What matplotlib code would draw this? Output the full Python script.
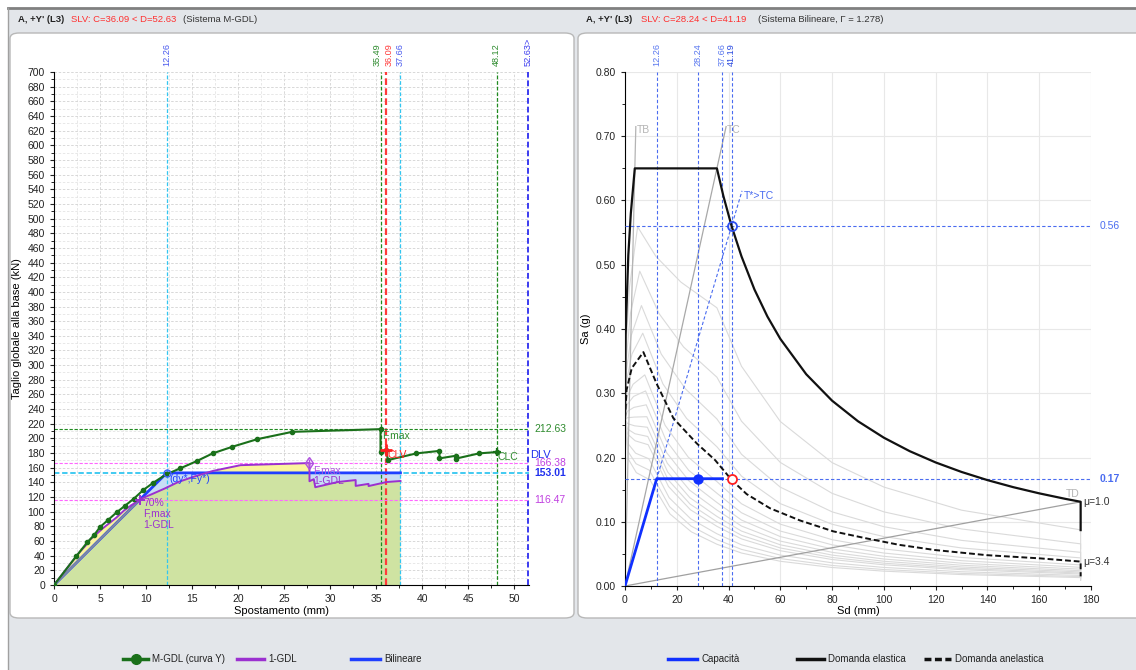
import matplotlib
matplotlib.use('Agg')
import matplotlib.pyplot as plt
from matplotlib.patches import FancyBboxPatch, Polygon, Rectangle
from matplotlib.lines import Line2D
from matplotlib.ticker import MultipleLocator, FormatStrFormatter

plt.rcParams['font.family'] = ['Liberation Sans', 'DejaVu Sans']

# ---------------- left chart: pushover curves ----------------
mgdl_x = [0, 2.4, 3.6, 4.35, 5.0, 5.9, 6.8, 7.7, 8.7, 9.7, 10.8, 12.2, 13.7, 15.5, 17.25,
          19.4, 22.1, 25.9, 35.49, 35.49, 36.09, 36.3, 39.4, 41.9, 41.9, 43.7, 43.7, 46.2, 48.12]
mgdl_y = [0, 39, 58, 68, 79, 89, 99, 108, 118, 129.6, 139.6, 151, 159, 169, 179.6,
          188.7, 199, 209, 212.63, 181, 184.5, 170.5, 179.6, 183, 172.8, 176.4, 172.5, 179.6, 181.4]

gdl1_x = [0, 1.88, 2.82, 3.40, 3.91, 4.62, 5.32, 6.03, 6.81, 7.59, 8.45, 9.55, 10.72, 12.13, 13.50,
          15.18, 17.29, 20.27, 27.77, 27.77, 28.24, 28.40, 30.83, 32.79, 32.79, 34.19, 34.19, 36.15, 37.66]
gdl1_y = [0, 30.5, 45.4, 53.2, 61.8, 69.6, 77.5, 84.5, 92.3, 101.4, 109.2, 118.2, 124.4, 132.2, 140.5,
          147.7, 155.7, 163.5, 166.38, 141.6, 144.4, 133.4, 140.5, 143.2, 135.2, 138.0, 135.0, 140.5, 141.9]

bil_x = [0, 12.26, 37.66]
bil_y = [0, 153.01, 153.01]
p70 = (9.33, 116.47)
fmax_m = (35.49, 212.63)
fmax_1 = (27.77, 166.38)
clv = (36.09, 184.5)
clc = (48.12, 181.4)

left_vx = [12.26, 35.49, 36.09, 37.66, 48.12, 52.63]
left_vlabels = ['12.26', '35.49', '36.09', '37.66', '48.12', '52.63>']
left_hy = [212.63, 166.38, 153.01, 116.47]
left_hlabels = ['212.63', '166.38', '153.01', '116.47']

# ---------------- right chart: ADRS ----------------
cap_sd = [0, 12.26, 37.66]
cap_sa = [0, 0.167, 0.167]
perf_point = (28.24, 0.167)
dem_point = (41.19, 0.167)
el_point = (41.19, 0.56)

el_sd = [0, 0.24, 1.28, 2.25, 3.78, 35.5, 38, 41.19, 45, 50, 55, 60, 70, 80, 90, 100, 110,
         120, 130, 140, 150, 160, 170, 176, 176]
el_sa = [0.26, 0.39, 0.515, 0.58, 0.65, 0.65, 0.607, 0.56, 0.513, 0.4615, 0.4195, 0.3846, 0.3296,
         0.2884, 0.2564, 0.2308, 0.2098, 0.1923, 0.1775, 0.1648, 0.1538, 0.1442, 0.1357, 0.1311, 0.087]

anel_sd = [0, 0.6, 2.6, 7.1, 12.2, 18.7, 27.7, 34.8, 41.2, 47, 56, 67.6, 80.5, 93.4, 106,
           119.7, 139.7, 160.3, 176, 176]
anel_sa = [0.261, 0.305, 0.339, 0.364, 0.315, 0.261, 0.222, 0.196, 0.165, 0.143, 0.121, 0.102,
           0.085, 0.074, 0.064, 0.056, 0.048, 0.043, 0.038, 0.015]

# family of reduced spectra (grey), shared tail abscissae
grey_tail_sd = [35.5, 45, 60, 80, 100, 130, 176, 176]
grey_head_sd = [
    [0, 0.342, 1.735, 4.875, 11.94, 21.59],
    [0, 0.434, 2.11, 5.70, 13.15, 22.63],
    [0, 0.517, 2.42, 6.35, 14.0, 23.31],
    [0, 0.593, 2.69, 6.86, 14.64, 23.79],
    [0, 0.727, 3.12, 7.64, 15.51, 24.41],
    [0, 0.787, 3.30, 7.94, 15.83, 24.62],
    [0, 0.841, 3.45, 8.20, 16.09, 24.80],
    [0, 0.892, 3.59, 8.43, 16.31, 24.94],
    [0, 0.939, 3.72, 8.62, 16.50, 25.07],
    [0, 0.984, 3.83, 8.80, 16.66, 25.17],
    [0, 1.024, 3.93, 8.95, 16.81, 25.26],
    [0, 1.10, 4.11, 9.21, 17.05, 25.41],
    [0, 1.166, 4.26, 9.43, 17.23, 25.52],
    [0, 1.225, 4.385, 9.61, 17.39, 25.62],
]
grey_head_sa = [
    [0.26, 0.368, 0.465, 0.559, 0.513, 0.473],
    [0.26, 0.350, 0.4245, 0.490, 0.424, 0.372],
    [0.26, 0.334, 0.390, 0.4365, 0.361, 0.307],
    [0.26, 0.319, 0.361, 0.3935, 0.3146, 0.2608],
    [0.26, 0.2936, 0.314, 0.3286, 0.250, 0.2007],
    [0.26, 0.2822, 0.295, 0.3036, 0.2268, 0.180],
    [0.26, 0.2717, 0.278, 0.282, 0.2075, 0.1632],
    [0.26, 0.2618, 0.2629, 0.2635, 0.1912, 0.1492],
    [0.26, 0.2528, 0.2493, 0.2471, 0.1774, 0.1374],
    [0.26, 0.2443, 0.237, 0.2327, 0.1653, 0.1274],
    [0.26, 0.2363, 0.226, 0.2199, 0.1548, 0.1187],
    [0.26, 0.2219, 0.2067, 0.198, 0.1374, 0.1045],
    [0.26, 0.2091, 0.1903, 0.1802, 0.1235, 0.0933],
    [0.26, 0.1978, 0.1764, 0.1652, 0.1121, 0.0843],
]
grey_tail_sa = [
    [0.433, 0.342, 0.256, 0.192, 0.154, 0.118, 0.0874, 0.058],
    [0.325, 0.2565, 0.1923, 0.1442, 0.1154, 0.0888, 0.0656, 0.0436],
    [0.26, 0.205, 0.1538, 0.1154, 0.0923, 0.071, 0.0524, 0.0348],
    [0.2167, 0.171, 0.1282, 0.0961, 0.0769, 0.0592, 0.0437, 0.029],
    [0.1625, 0.128, 0.0962, 0.0721, 0.0577, 0.0444, 0.0328, 0.0218],
    [0.1444, 0.114, 0.0855, 0.0641, 0.0513, 0.0394, 0.0291, 0.0193],
    [0.13, 0.1026, 0.0769, 0.0577, 0.0462, 0.0355, 0.0262, 0.0174],
    [0.1182, 0.0933, 0.0699, 0.0524, 0.042, 0.0323, 0.0238, 0.0158],
    [0.1083, 0.0855, 0.0641, 0.0481, 0.0385, 0.0296, 0.0219, 0.0145],
    [0.1, 0.0789, 0.0592, 0.0444, 0.0355, 0.0273, 0.0202, 0.0134],
    [0.0929, 0.0733, 0.0549, 0.0412, 0.033, 0.0254, 0.0187, 0.0124],
    [0.0813, 0.0641, 0.0481, 0.0361, 0.0289, 0.0222, 0.0164, 0.0109],
    [0.0722, 0.057, 0.0427, 0.032, 0.0256, 0.0197, 0.0146, 0.0097],
    [0.065, 0.0513, 0.0385, 0.0288, 0.0231, 0.0178, 0.0131, 0.0087],
]

tb_end = (4.18, 0.715)
tc_end = (39.05, 0.715)
td_end = (176, 0.131)
tstar_end = (45.2, 0.615)
right_vx = [12.26, 28.24, 37.66, 41.19]
right_hy = [0.56, 0.167]
right_hlabels = ['0.56', '0.17']

# ---------------- figure / frames ----------------
W, H = 1136, 670
fig = plt.figure(figsize=(W / 100, H / 100), dpi=100)
fig.patch.set_facecolor('#e3e6ea')


def fx(px):
    return px / W


def fy(py):
    return 1 - py / H


fig.add_artist(Rectangle((0, fy(8)), 1, 8 / H, transform=fig.transFigure, fc='white', ec='none', zorder=-3))
fig.add_artist(Rectangle((0, 0), fx(8), 1, transform=fig.transFigure, fc='white', ec='none', zorder=-3))
fig.add_artist(Line2D([fx(8), 1], [fy(8), fy(8)], transform=fig.transFigure, color='#808080', lw=2, zorder=-2))
fig.add_artist(Line2D([fx(8), fx(8)], [0, fy(8)], transform=fig.transFigure, color='#a0a0a0', lw=1, zorder=-2))
for x0, x1 in [(10, 574), (578, 1145)]:
    fig.add_artist(FancyBboxPatch((fx(x0), fy(618)), fx(x1 - x0), (618 - 33) / H,
                                  boxstyle='round,pad=0,rounding_size=0.008', transform=fig.transFigure,
                                  fc='white', ec='#b8b8b8', lw=1, zorder=-1))

# headers
hy = fy(20)
hfs = 6.8
fig.text(fx(18), hy, "A, +Y' (L3)", fontsize=hfs, fontweight='bold', va='center', color='#222222')
fig.text(fx(71), hy, "SLV: C=36.09 < D=52.63", fontsize=hfs, va='center', color='#ff3030')
fig.text(fx(183), hy, "(Sistema M-GDL)", fontsize=hfs, va='center', color='#333333')
fig.text(fx(586), hy, "A, +Y' (L3)", fontsize=hfs, fontweight='bold', va='center', color='#222222')
fig.text(fx(641), hy, "SLV: C=28.24 < D=41.19", fontsize=hfs, va='center', color='#ff3030')
fig.text(fx(758), hy, "(Sistema Bilineare, \u0393 = 1.278)", fontsize=hfs, va='center', color='#333333')

tick_fs = 7.5

# ================= LEFT =================
ax1 = fig.add_axes([fx(54), fy(585), fx(529 - 54), (585 - 72) / H])
ax1.set_facecolor('white')
ax1.set_xlim(0, 51.63)
ax1.set_ylim(0, 700)
ax1.xaxis.set_major_locator(MultipleLocator(5))
ax1.xaxis.set_minor_locator(MultipleLocator(2.5))
ax1.yaxis.set_major_locator(MultipleLocator(20))
ax1.yaxis.set_minor_locator(MultipleLocator(10))
ax1.grid(which='major', color='#d2d2d2', ls=(0, (3, 2)), lw=0.6)
ax1.grid(which='minor', color='#e4e4e4', ls=(0, (3, 2)), lw=0.6)
ax1.set_axisbelow(True)
for s in ['top', 'right']:
    ax1.spines[s].set_visible(False)
ax1.tick_params(labelsize=tick_fs, length=3, width=0.8, colors='#222222')
ax1.tick_params(which='minor', length=2)
ax1.set_xlabel('Spostamento (mm)', fontsize=8)
ax1.set_ylabel('Taglio globale alla base (kN)', fontsize=8)
ax1.xaxis.set_label_coords(0.48, -0.041)
ax1.yaxis.set_label_coords(-0.067, 0.5)

# filled areas
poly_gdl = list(zip(gdl1_x, gdl1_y)) + [(gdl1_x[-1], 0)]
poly_bil = list(zip(bil_x, bil_y)) + [(bil_x[-1], 0)]
ax1.add_patch(Polygon(poly_gdl, closed=True, fc='#fbf49c', ec='none', zorder=1))
pb = Polygon(poly_bil, closed=True, fc='#c8ddf5', ec='none', zorder=1.1)
ax1.add_patch(pb)
pg = Polygon(poly_gdl, closed=True, fc='#cfe3a2', ec='none', zorder=1.2)
ax1.add_patch(pg)
pg.set_clip_path(pb)

# reference lines
xmax1 = ax1.get_xlim()[1]
vcols = ['#33c6f0', '#1f8a1f', '#ff3b3b', '#33c6f0', '#1f8a1f', '#3b3bf0']
vtxt = ['#4a5aee', '#2e8b2e', '#ff3b3b', '#4a5aee', '#2e8b2e', '#3b3bf0']
vlw = [0.9, 0.9, 1.6, 0.9, 0.9, 1.4]
vnudge = [0, -2.5, 2.5, 0, 0, 0]
for x, lab, c, tc, lw, dx in zip(left_vx, left_vlabels, vcols, vtxt, vlw, vnudge):
    xx = min(x, xmax1 - 0.12)
    ax1.axvline(xx, color=c, lw=lw, ls=(0, (3, 1.5)), zorder=2)
    ax1.annotate(lab, xy=(xx, 1), xycoords=('data', 'axes fraction'), xytext=(dx, 4),
                 textcoords='offset points', rotation=90, ha='center', va='bottom', fontsize=6.6, color=tc)

hcols = ['#1f8a1f', '#ff66ff', '#33c6f0', '#ff66ff']
htxt = ['#2e8b2e', '#c040e0', '#2030ee', '#c040e0']
hlw = [0.8, 0.8, 1.3, 0.8]
for y, lab, c, tc, lw in zip(left_hy, left_hlabels, hcols, htxt, hlw):
    ax1.axhline(y, color=c, lw=lw, ls=(0, (3, 1.5)), zorder=2)
    ax1.annotate(lab, xy=(1, y), xycoords=('axes fraction', 'data'), xytext=(4, 0),
                 textcoords='offset points', va='center', ha='left', fontsize=7.5, color=tc,
                 fontweight='bold' if lab == '153.01' else 'normal')
ax1.annotate('DLV', xy=(1, 177), xycoords=('axes fraction', 'data'), xytext=(1, 0),
             textcoords='offset points', va='center', ha='left', fontsize=8, color='#2030ee')

# curves
ax1.plot(bil_x, bil_y, color='#1f3fff', lw=2, zorder=3)
ax1.plot([0, p70[0]], [0, p70[1]], color='#7d88a3', lw=1.6, zorder=3.1)
ax1.plot(gdl1_x, gdl1_y, color='#9b30d0', lw=1.4, zorder=4)
ax1.plot(mgdl_x, mgdl_y, color='#1a701a', lw=1.5, marker='o', ms=3, zorder=5)

# markers and notes
ax1.plot(*p70, marker='+', color='#9b30d0', ms=7, mew=1.4, zorder=6)
ax1.text(p70[0] + 0.35, p70[1] + 2, '70%\nF,max\n1-GDL', fontsize=7.5, color='#9b30d0',
         va='top', ha='left', linespacing=1.1, zorder=6)
ax1.plot(bil_x[1], bil_y[1], marker='o', mfc='none', mec='#4060ff', ms=5, mew=1, zorder=6)
ax1.text(bil_x[1] + 0.3, bil_y[1] - 1, '(dy*,Fy*)', fontsize=7.5, color='#2040ff', va='top', zorder=6)
ax1.plot(*fmax_1, marker='d', mfc='none', mec='#b050e0', ms=6, mew=1, zorder=6)
ax1.plot(*fmax_1, marker='+', color='#b050e0', ms=6, mew=1, zorder=6)
ax1.text(fmax_1[0] + 0.4, fmax_1[1] - 3, 'F,max', fontsize=7.5, color='#b050e0', va='top', zorder=6)
ax1.text(fmax_1[0] + 0.4, fmax_1[1] - 18, '1-GDL', fontsize=7.5, color='#9b30d0', va='top', zorder=6)
ax1.text(fmax_m[0] + 0.15, fmax_m[1] - 8, 'F,max', fontsize=7.5, color='#2e8b2e', va='center', zorder=6)
ax1.plot(*clv, marker='+', color='#ff2020', ms=8, mew=2, zorder=7)
ax1.text(clv[0] + 0.2, clv[1] - 7, 'CLV', fontsize=7.5, color='#ff2020', va='center', zorder=6)
ax1.plot(*clc, marker='+', color='#1a701a', ms=6, mew=1.6, zorder=7)
ax1.text(clc[0] + 0.1, clc[1] - 7, 'CLC', fontsize=7.5, color='#2e8b2e', va='center', zorder=6)

# ================= RIGHT =================
ax2 = fig.add_axes([fx(625), fy(586), fx(1091 - 625), (586 - 72) / H])
ax2.set_facecolor('white')
ax2.set_xlim(0, 180)
ax2.set_ylim(0, 0.8)
ax2.xaxis.set_major_locator(MultipleLocator(20))
ax2.xaxis.set_minor_locator(MultipleLocator(10))
ax2.yaxis.set_major_locator(MultipleLocator(0.1))
ax2.yaxis.set_minor_locator(MultipleLocator(0.05))
ax2.yaxis.set_major_formatter(FormatStrFormatter('%.2f'))
ax2.grid(which='major', color='#e8e8e8', lw=0.8)
ax2.set_axisbelow(True)
for s in ['top', 'right']:
    ax2.spines[s].set_visible(False)
ax2.tick_params(labelsize=tick_fs, length=3, width=0.8, colors='#222222')
ax2.tick_params(which='minor', length=2)
ax2.set_xlabel('Sd (mm)', fontsize=8)
ax2.set_ylabel('Sa (g)', fontsize=8)
ax2.xaxis.set_label_coords(0.5, -0.039)
ax2.yaxis.set_label_coords(-0.073, 0.5)

for hsd, hsa, tsa in zip(grey_head_sd, grey_head_sa, grey_tail_sa):
    ax2.plot(hsd + grey_tail_sd, hsa + tsa, color='#dadada', lw=0.8, zorder=1)

# period lines
ax2.plot([0, tb_end[0]], [0, tb_end[1]], color='#b4b4b4', lw=0.9, zorder=2)
ax2.plot([0, tc_end[0]], [0, tc_end[1]], color='#a8a8a8', lw=0.9, zorder=2)
ax2.plot([0, td_end[0]], [0, td_end[1]], color='#a0a0a0', lw=0.9, zorder=2)
ax2.text(tb_end[0] + 0.4, tb_end[1] - 0.005, 'TB', fontsize=7.5, color='#b4b4b4', va='center')
ax2.text(tc_end[0] + 0.4, tc_end[1] - 0.005, 'TC', fontsize=7.5, color='#b4b4b4', va='center')
ax2.text(td_end[0] - 0.5, td_end[1] + 0.004, 'TD', fontsize=7.5, color='#b4b4b4', va='bottom', ha='right')
ax2.plot([0, tstar_end[0]], [0, tstar_end[1]], color='#4a6cf0', lw=0.8, ls=(0, (3, 2)), zorder=3)
ax2.text(tstar_end[0] + 0.6, tstar_end[1] - 0.008, 'T*>TC', fontsize=7.5, color='#4a6cf0', va='center')

# reference lines
for x in right_vx:
    ax2.axvline(x, color='#4a6cf0', lw=0.8, ls=(0, (3, 2)), zorder=3)
    ax2.annotate(f'{x:.2f}', xy=(x, 1), xycoords=('data', 'axes fraction'), xytext=(0, 4),
                 textcoords='offset points', rotation=90, ha='center', va='bottom', fontsize=6.6,
                 color='#2a4ae0' if x == right_vx[-1] else '#5a78f0')
for y, lab in zip(right_hy, right_hlabels):
    ax2.axhline(y, color='#4a6cf0', lw=0.8, ls=(0, (3, 2)), zorder=3)
    ax2.annotate(lab, xy=(1, y), xycoords=('axes fraction', 'data'), xytext=(6, 0),
                 textcoords='offset points', va='center', ha='left', fontsize=7.5, color='#4a6cf0',
                 fontweight='bold' if lab == '0.17' else 'normal')

# spectra
ax2.plot(el_sd, el_sa, color='#111111', lw=1.6, zorder=4)
ax2.plot(anel_sd, anel_sa, color='#111111', lw=1.4, ls=(0, (3, 1.5)), zorder=4)
ax2.text(177, el_sa[-2], '\u03bc=1.0', fontsize=7.5, color='#333333', va='center', ha='left')
ax2.text(177, anel_sa[-2], '\u03bc=3.4', fontsize=7.5, color='#333333', va='center', ha='left')

# capacity
ax2.plot(cap_sd, cap_sa, color='#1030ff', lw=2, zorder=5)
ax2.plot(*perf_point, marker='o', color='#1030ff', ms=6.5, zorder=6)
ax2.plot(*dem_point, marker='o', mfc='white', mec='#ff2020', ms=6.5, mew=1.3, zorder=6)
ax2.plot(*el_point, marker='o', mfc='none', mec='#3050f0', ms=6.5, mew=1.3, zorder=6)

# ================= legends =================
ly = fy(659)
leg_fs = 7
leg_items = [
    (123, 148, 'M-GDL (curva Y)', '#1a701a', '-', 'o'),
    (237, 264, '1-GDL', '#9b30d0', '-', None),
    (351, 380, 'Bilineare', '#1f3fff', '-', None),
    (668, 697, 'Capacit\u00e0', '#1030ff', '-', None),
    (797, 824, 'Domanda elastica', '#111111', '-', None),
    (924, 951, 'Domanda anelastica', '#111111', (0, (2, 1)), None),
]
for x0, x1, lab, c, ls, mk in leg_items:
    fig.add_artist(Line2D([fx(x0), fx(x1)], [ly, ly], transform=fig.transFigure, color=c, lw=2.5, ls=ls))
    if mk:
        fig.add_artist(Line2D([fx((x0 + x1) / 2)], [ly], transform=fig.transFigure, color=c,
                              marker=mk, ms=7, lw=0))
    fig.text(fx(x1 + 4), ly, lab, fontsize=leg_fs, va='center', ha='left', color='#222222')

fig.savefig('out.png', dpi=100, facecolor=fig.get_facecolor())
